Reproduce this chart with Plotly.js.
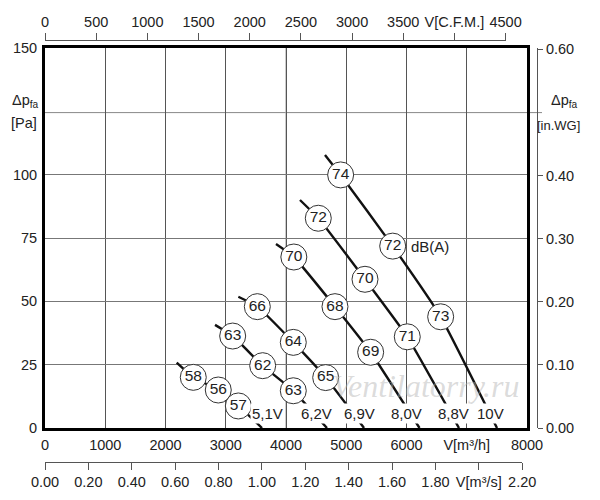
<!DOCTYPE html>
<html>
<head>
<meta charset="utf-8">
<script src="https://cdn.plot.ly/plotly-3.0.1.min.js"></script>
<style>html,body{margin:0;padding:0;background:#fff;}#chart{width:600px;height:500px;}</style>
</head>
<body>
<div id="chart"></div>
<script>
// ---- data (flow in m³/h, static pressure in Pa, sound level dB(A)) ----
const voltages = ['5,1V', '6,2V', '6,9V', '8,0V', '8,8V', '10V'];

const flow_51 = [2186, 2461, 2876, 3209, 3602];
const dp_51   = [25.8, 20.0, 15.0, 8.7, 0];
const db_51   = [null, 58, 56, 57, null];

const flow_62 = [2822, 3115, 3613, 4121, 4680];
const dp_62   = [40.7, 36.3, 24.6, 14.7, 0];
const db_62   = [null, 63, 62, 63, null];

const flow_69 = [3209, 3524, 4121, 4659, 5295];
const dp_69   = [51.8, 47.9, 33.8, 19.9, 0];
const db_69   = [null, 66, 64, 65, null];

const flow_80 = [3834, 4130, 4813, 5405, 6216];
const dp_80   = [72.6, 67.5, 47.9, 29.9, 0];
const db_80   = [null, 70, 68, 69, null];

const flow_88 = [4232, 4536, 5311, 6013, 6871];
const dp_88   = [90.0, 82.8, 58.7, 36.0, 0];
const db_88   = [null, 72, 70, 71, null];

const flow_10 = [4647, 4907, 5771, 6567, 7502];
const dp_10   = [107.8, 99.9, 71.8, 43.9, 0];
const db_10   = [null, 74, 72, 73, null];

// ---- axis ticks ----
const flowTicks  = [0, 1000, 2000, 3000, 4000, 5000, 6000, 7000, 8000];
const flowLabels = ['0', '1000', '2000', '3000', '4000', '5000', '6000', 'V[m³/h]', '8000'];
const cfmTicks   = [0, 500, 1000, 1500, 2000, 2500, 3000, 3500, 4000, 4500];
const cfmLabels  = ['0', '500', '1000', '1500', '2000', '2500', '3000', '3500', 'V[C.F.M.]', '4500'];
const m3sTicks   = [0, 0.2, 0.4, 0.6, 0.8, 1.0, 1.2, 1.4, 1.6, 1.8, 2.0, 2.2];
const m3sLabels  = ['0.00', '0.20', '0.40', '0.60', '0.80', '1.00', '1.20', '1.40', '1.60', '1.80', 'V[m³/s]', '2.20'];
const paTicks    = [0, 25, 50, 75, 100, 150];
const paLabels   = ['0', '25', '50', '75', '100', '150'];
const inwgTicks  = [0, 0.1, 0.2, 0.3, 0.4, 0.6];
const inwgLabels = ['0.00', '0.10', '0.20', '0.30', '0.40', '0.60'];

// ---- build ----
const curves = [
  [flow_51, dp_51, db_51], [flow_62, dp_62, db_62], [flow_69, dp_69, db_69],
  [flow_80, dp_80, db_80], [flow_88, dp_88, db_88], [flow_10, dp_10, db_10]
];
const FONT = '"Liberation Sans", Arial, sans-serif';
const traces = [];
// invisible helper traces so the secondary unit axes are drawn (no grids on these subplots)
traces.push({type: 'scatter', mode: 'markers', x: [0, 4500], y: [0, 0], xaxis: 'x2', yaxis: 'y2',
  marker: {opacity: 0, size: 1}, hoverinfo: 'skip', showlegend: false});
traces.push({type: 'scatter', mode: 'markers', x: [0, 2.2], y: [0, 0], xaxis: 'x3', yaxis: 'y2',
  marker: {opacity: 0, size: 1}, hoverinfo: 'skip', showlegend: false});
curves.forEach((c, i) => {
  traces.push({
    type: 'scatter', mode: 'lines', x: c[0], y: c[1], name: voltages[i],
    line: {color: '#111', width: 2.4, shape: 'spline', smoothing: 0.4},
    hoverinfo: 'skip', showlegend: false, xaxis: 'x', yaxis: 'y'
  });
});
const cx = [], cy = [], ct = [];
curves.forEach(c => {
  c[2].forEach((v, j) => { if (v !== null) { cx.push(c[0][j]); cy.push(c[1][j]); ct.push(String(v)); } });
});
traces.push({
  type: 'scatter', mode: 'markers+text', x: cx, y: cy, text: ct,
  textposition: 'middle center',
  textfont: {family: FONT, size: 15.5, color: '#222'},
  marker: {size: 26, color: '#fff', line: {color: '#333', width: 1}},
  hoverinfo: 'skip', showlegend: false, cliponaxis: false
});

// layout geometry (pixels -> fractions)
const L = 45, R = 63, T = 40, B = 38, W = 600, H = 500;
const pw = W - L - R, ph = H - T - B;
const fx = px => (px - L) / pw;
const fy = py => (H - B - py) / ph;
const plotRight = fx(527), plotBottom = fy(428), plotTop = fy(48);

const vLabelX = [3685, 4498, 5212, 6008, 6772, 7386];
const annotations = [
  {x: 6330, y: 16.5, xref: 'x', yref: 'y', text: 'Ventilatorry.ru', showarrow: false,
   font: {family: '"Liberation Serif", "DejaVu Serif", serif', size: 32, color: 'rgba(175,175,175,0.45)', style: 'italic'},
   xanchor: 'center', yanchor: 'middle'}
];
voltages.forEach((v, i) => annotations.push({
  x: vLabelX[i], y: 5.9, xref: 'x', yref: 'y', text: v, showarrow: false,
  font: {family: FONT, size: 15, color: '#222'}, bgcolor: '#fff',
  xanchor: 'center', yanchor: 'middle', borderpad: 1
}));
annotations.push(
  {x: 6390, y: 71.5, xref: 'x', yref: 'y', text: 'dB(A)', showarrow: false,
   font: {family: FONT, size: 15, color: '#222'}, xanchor: 'center', yanchor: 'middle'},
  {x: fx(25), y: 129, xref: 'paper', yref: 'y', text: 'Δp<sub>fa</sub>', showarrow: false,
   font: {family: FONT, size: 14.5, color: '#222'}, xanchor: 'center', yanchor: 'middle'},
  {x: fx(24), y: 120.5, xref: 'paper', yref: 'y', text: '[Pa]', showarrow: false,
   font: {family: FONT, size: 14.5, color: '#222'}, xanchor: 'center', yanchor: 'middle'},
  {x: fx(564), y: 129, xref: 'paper', yref: 'y', text: 'Δp<sub>fa</sub>', showarrow: false,
   font: {family: FONT, size: 14.5, color: '#222'}, xanchor: 'center', yanchor: 'middle'},
  {x: fx(558), y: 119.5, xref: 'paper', yref: 'y', text: '[in.WG]', showarrow: false,
   font: {family: FONT, size: 13, color: '#222'}, xanchor: 'center', yanchor: 'middle'}
);

const tickFont = {family: FONT, size: 14.5, color: '#222'};
const layout = {
  width: W, height: H,
  margin: {l: L, r: R, t: T, b: B, pad: 0},
  paper_bgcolor: '#fff', plot_bgcolor: 'rgba(0,0,0,0)',
  showlegend: false,
  font: {family: FONT, color: '#222'},
  xaxis: {
    domain: [0, plotRight], range: [0, 8000], anchor: 'y',
    tickmode: 'array', tickvals: flowTicks, ticktext: flowLabels,
    showgrid: true, gridcolor: '#555', gridwidth: 1,
    showline: true, linecolor: '#000', linewidth: 3, mirror: true,
    ticks: 'outside', ticklen: 2, tickcolor: 'rgba(0,0,0,0)',
    tickfont: tickFont, zeroline: false, fixedrange: true
  },
  yaxis: {
    domain: [plotBottom, plotTop], range: [0, 150], anchor: 'x',
    tickmode: 'array', tickvals: paTicks, ticktext: paLabels,
    showgrid: true, gridcolor: '#777', gridwidth: 1,
    showline: true, linecolor: '#000', linewidth: 3, mirror: true,
    ticks: 'outside', ticklen: 2, tickcolor: 'rgba(0,0,0,0)',
    tickfont: tickFont, zeroline: false, fixedrange: true
  },
  xaxis2: {
    domain: [0, fx(505.6)], range: [0, 4500], anchor: 'free', position: 1, side: 'top',
    tickmode: 'array', tickvals: cfmTicks, ticktext: cfmLabels,
    showgrid: false, showline: true, linecolor: '#555', linewidth: 1,
    ticks: 'outside', ticklen: 7, tickcolor: '#555', tickwidth: 1,
    tickfont: tickFont, zeroline: false, fixedrange: true
  },
  xaxis3: {
    domain: [0, fx(522.2)], range: [0, 2.2], anchor: 'free', position: 0, side: 'bottom',
    tickmode: 'array', tickvals: m3sTicks, ticktext: m3sLabels,
    showgrid: false, showline: true, linecolor: '#555', linewidth: 1,
    ticks: 'outside', ticklen: 7, tickcolor: '#555', tickwidth: 1,
    tickfont: tickFont, zeroline: false, fixedrange: true
  },
  yaxis2: {
    domain: [plotBottom, plotTop], range: [0, 150 / 249.089], anchor: 'free', position: 1, side: 'right',
    tickmode: 'array', tickvals: inwgTicks, ticktext: inwgLabels,
    showgrid: false, showline: true, linecolor: '#555', linewidth: 1,
    ticks: 'outside', ticklen: 5, tickcolor: '#555', tickwidth: 1,
    tickfont: tickFont, zeroline: false, fixedrange: true
  },
  shapes: [
    {type: 'line', xref: 'paper', yref: 'y', x0: 0, x1: fx(542), y0: 124.5, y1: 124.5,
     line: {color: '#888', width: 1}, layer: 'below'},
    {type: 'line', xref: 'x', yref: 'paper', x0: 4000, x1: 4000, y0: plotBottom, y1: plotTop,
     line: {color: '#aaa', width: 1.2}, layer: 'below'}
  ],
  annotations: annotations
};

Plotly.newPlot('chart', traces, layout, {staticPlot: true, displayModeBar: false});
</script>
</body>
</html>
